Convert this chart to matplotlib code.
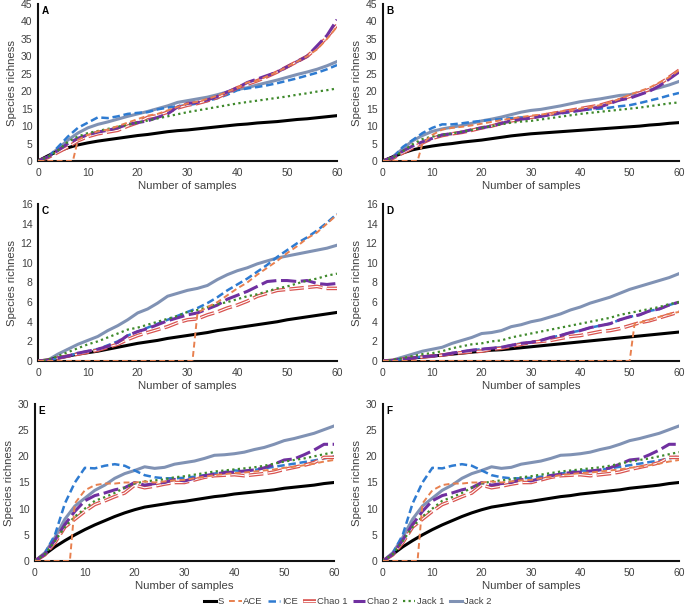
"""Species accumulation curves (S, ACE, ICE, Chao 1/2, Jack 1/2) for six sample sets."""

import matplotlib
matplotlib.use("Agg")
import matplotlib.pyplot as plt
from matplotlib.legend_handler import HandlerTuple

plt.rcParams["font.family"] = ["Liberation Sans", "DejaVu Sans"]

# common sampling grid (number of samples)
X = list(range(0, 61, 2))

PANELS = ["A", "B", "C", "D", "E", "F"]
Y_MAX = [45, 45, 16, 16, 30, 30]
Y_STEP = [5, 5, 2, 2, 5, 5]

# ---- panel A ----
S_A = [0, 1.5, 2.8, 3.8, 4.6, 5.2, 5.7, 6.1, 6.5, 6.9, 7.3, 7.6, 8.0, 8.4, 8.7, 8.9,
       9.2, 9.5, 9.8, 10.1, 10.4, 10.6, 10.9, 11.1, 11.3, 11.6, 11.9, 12.1, 12.4, 12.7, 13.0]
ACE_A_X = [0, 7] + list(range(8, 61, 2))
ACE_A = [0, 0, 6.0, 7.5, 8.5, 9.0, 10.0, 11.0, 12.0, 13.0, 13.5, 14.5, 15.5, 16.5, 17.0, 17.8,
         18.7, 19.8, 21.0, 22.5, 23.0, 24.3, 25.5, 27.0, 28.5, 30.0, 32.0, 35.0, 38.5]
ICE_A = [0, 1.0, 4.0, 7.0, 9.5, 11.0, 12.5, 12.3, 12.8, 13.5, 13.8, 14.0, 14.8, 15.3, 15.7, 16.0,
         16.5, 17.2, 18.0, 19.0, 20.3, 20.8, 21.2, 21.7, 22.3, 23.0, 23.7, 24.5, 25.3, 26.3, 27.5]
CHAO1_A = [0, 1.0, 2.5, 4.0, 5.8, 7.0, 7.8, 8.3, 8.8, 10.0, 11.0, 12.5, 13.0, 14.0, 15.2, 16.0,
           16.5, 17.3, 18.2, 19.5, 21.0, 22.0, 23.0, 24.2, 25.5, 27.0, 28.5, 30.0, 32.5, 35.5, 39.0]
CHAO2_A = [0, 1.2, 3.0, 5.0, 6.5, 7.5, 8.3, 8.8, 9.5, 10.5, 11.0, 11.5, 12.5, 13.5, 15.5, 16.5,
           16.8, 17.5, 18.5, 19.8, 21.0, 22.5, 23.5, 24.5, 25.5, 27.0, 28.5, 30.0, 33.0, 36.0, 40.5]
JACK1_A = [0, 1.2, 3.0, 5.5, 7.0, 8.0, 8.6, 9.2, 9.8, 10.4, 11.0, 11.6, 12.2, 12.8, 13.4, 14.0,
           14.5, 15.0, 15.5, 16.0, 16.5, 16.9, 17.3, 17.7, 18.1, 18.5, 19.0, 19.4, 19.9, 20.3, 20.8]
JACK2_A = [0, 1.3, 3.5, 6.0, 8.0, 9.5, 10.5, 11.2, 12.0, 12.8, 13.5, 14.2, 15.0, 15.8, 16.8, 17.3,
           17.8, 18.3, 19.0, 19.8, 20.5, 21.0, 21.8, 22.5, 23.2, 24.0, 24.8, 25.5, 26.3, 27.3, 28.5]

# ---- panel B ----
S_B = [0, 1.2, 2.3, 3.2, 3.8, 4.3, 4.7, 5.0, 5.4, 5.7, 6.0, 6.4, 6.8, 7.2, 7.5, 7.8,
       8.0, 8.2, 8.4, 8.6, 8.8, 9.0, 9.2, 9.4, 9.6, 9.8, 10.0, 10.3, 10.5, 10.8, 11.0]
ACE_B_X = [0, 7] + list(range(8, 61, 2))
ACE_B = [0, 0, 5.0, 7.5, 9.0, 9.5, 9.8, 10.2, 10.7, 11.2, 11.7, 12.2, 12.6, 13.0, 13.3, 13.7,
         14.2, 14.6, 15.0, 15.5, 16.0, 16.8, 17.8, 19.0, 20.0, 21.0, 22.5, 24.0, 26.0]
ICE_B = [0, 1.0, 4.0, 6.0, 8.0, 9.5, 10.5, 10.5, 10.8, 11.2, 11.5, 11.8, 12.0, 12.3, 12.5, 12.5,
         12.8, 13.2, 13.6, 14.0, 14.5, 14.8, 15.0, 15.3, 15.7, 16.0, 16.6, 17.3, 18.0, 18.8, 19.5]
CHAO1_B = [0, 0.8, 2.3, 3.8, 5.2, 6.5, 7.3, 7.8, 8.2, 8.8, 9.5, 10.0, 10.8, 11.5, 12.0, 12.5,
           13.0, 13.5, 14.0, 14.5, 15.0, 15.5, 16.0, 16.8, 17.6, 18.5, 19.5, 20.5, 22.0, 24.0, 26.0]
CHAO2_B = [0, 1.0, 2.8, 4.3, 5.5, 6.5, 7.5, 7.8, 8.3, 9.0, 9.5, 10.0, 10.8, 11.5, 12.0, 12.3,
           12.8, 13.3, 13.8, 14.2, 14.5, 15.0, 15.5, 16.5, 17.5, 18.0, 19.0, 20.0, 21.5, 23.5, 25.5]
JACK1_B = [0, 1.0, 2.8, 4.8, 6.3, 7.0, 7.5, 7.9, 8.4, 8.9, 9.5, 10.0, 10.5, 11.0, 11.3, 11.5,
           11.9, 12.3, 12.7, 13.1, 13.5, 13.8, 14.1, 14.4, 14.7, 15.0, 15.3, 15.7, 16.1, 16.5, 16.8]
JACK2_B = [0, 1.2, 3.5, 5.8, 7.3, 8.5, 9.2, 9.7, 10.2, 10.8, 11.5, 12.0, 12.6, 13.3, 14.0, 14.5,
           14.8, 15.3, 15.8, 16.4, 17.0, 17.4, 17.8, 18.3, 18.8, 19.0, 19.6, 20.3, 21.0, 21.8, 22.8]

# ---- panel C ----
S_C = [0, 0.1, 0.3, 0.5, 0.7, 0.85, 1.0, 1.2, 1.4, 1.6, 1.8, 1.95, 2.1, 2.3, 2.45, 2.6,
       2.75, 2.9, 3.1, 3.25, 3.4, 3.55, 3.7, 3.85, 4.0, 4.2, 4.35, 4.5, 4.65, 4.8, 4.95]
ACE_C_X = [0, 31] + list(range(32, 61, 2))
ACE_C = [0, 0, 4.9, 5.5, 6.0, 6.7, 7.4, 8.0, 8.8, 9.5, 10.2, 11.0, 11.7, 12.5, 13.1, 14.0, 14.9]
ICE_C = [0, 0.05, 0.3, 0.5, 0.8, 1.0, 1.2, 1.6, 2.0, 2.6, 3.0, 3.4, 3.8, 4.2, 4.6, 5.0,
         5.4, 5.9, 6.5, 7.2, 7.8, 8.4, 9.1, 9.8, 10.6, 11.3, 12.0, 12.6, 13.3, 14.1, 15.0]
CHAO1_C = [0, 0.05, 0.3, 0.5, 0.7, 0.9, 1.1, 1.4, 1.7, 2.2, 2.6, 2.9, 3.2, 3.5, 3.9, 4.2,
           4.3, 4.7, 5.0, 5.4, 5.7, 6.1, 6.6, 6.9, 7.2, 7.3, 7.4, 7.5, 7.6, 7.4, 7.4]
CHAO2_C = [0, 0.05, 0.3, 0.5, 0.8, 1.0, 1.2, 1.5, 1.9, 2.6, 3.0, 3.3, 3.7, 4.1, 4.4, 4.7,
           4.9, 5.3, 5.7, 6.3, 6.7, 7.1, 7.6, 8.1, 8.2, 8.2, 8.1, 8.2, 7.9, 7.8, 7.9]
JACK1_C = [0, 0.1, 0.5, 0.9, 1.3, 1.7, 2.0, 2.4, 2.8, 3.2, 3.4, 3.7, 4.0, 4.3, 4.6, 5.0,
           5.2, 5.5, 5.8, 6.0, 6.3, 6.6, 6.8, 7.1, 7.4, 7.6, 7.9, 8.2, 8.4, 8.7, 8.9]
JACK2_C = [0, 0.1, 0.7, 1.2, 1.7, 2.1, 2.5, 3.1, 3.6, 4.2, 4.9, 5.3, 5.9, 6.6, 6.9, 7.2,
           7.4, 7.7, 8.3, 8.8, 9.2, 9.5, 9.9, 10.2, 10.5, 10.7, 10.9, 11.1, 11.3, 11.5, 11.8]

# ---- panel D ----
S_D = [0, 0.05, 0.15, 0.3, 0.4, 0.5, 0.6, 0.7, 0.8, 0.9, 1.0, 1.1, 1.15, 1.25, 1.35, 1.45,
       1.55, 1.65, 1.75, 1.85, 1.95, 2.05, 2.15, 2.25, 2.35, 2.45, 2.55, 2.65, 2.75, 2.85, 2.95]
ACE_D_X = [0, 50, 51] + list(range(52, 61, 2))
ACE_D = [0, 0, 3.8, 3.9, 4.2, 4.5, 4.8, 5.0]
ICE_D = [0, 0.05, 0.2, 0.3, 0.45, 0.5, 0.6, 0.8, 0.95, 1.1, 1.2, 1.3, 1.4, 1.6, 1.8, 1.9,
         2.1, 2.4, 2.6, 2.9, 3.1, 3.4, 3.6, 3.8, 4.2, 4.5, 4.7, 5.1, 5.3, 5.7, 6.0]
CHAO1_D = [0, 0.05, 0.2, 0.3, 0.4, 0.5, 0.6, 0.75, 0.85, 0.95, 1.0, 1.2, 1.3, 1.5, 1.7, 1.9,
           2.0, 2.1, 2.3, 2.5, 2.6, 2.8, 3.0, 3.1, 3.3, 3.6, 3.9, 4.1, 4.4, 4.7, 5.0]
CHAO2_D = [0, 0.05, 0.2, 0.3, 0.45, 0.5, 0.6, 0.8, 0.95, 1.1, 1.2, 1.3, 1.4, 1.6, 1.8, 1.9,
           2.1, 2.4, 2.6, 2.9, 3.1, 3.4, 3.6, 3.8, 4.2, 4.5, 4.7, 5.1, 5.3, 5.7, 6.0]
JACK1_D = [0, 0.1, 0.3, 0.5, 0.7, 0.8, 1.0, 1.3, 1.5, 1.7, 1.8, 2.0, 2.1, 2.4, 2.6, 2.8,
           3.0, 3.2, 3.4, 3.6, 3.8, 4.0, 4.2, 4.4, 4.7, 4.9, 5.1, 5.3, 5.5, 5.8, 6.0]
JACK2_D = [0, 0.1, 0.4, 0.7, 1.0, 1.2, 1.4, 1.8, 2.1, 2.4, 2.8, 2.9, 3.1, 3.5, 3.7, 4.0,
           4.2, 4.5, 4.8, 5.2, 5.5, 5.9, 6.2, 6.5, 6.9, 7.3, 7.6, 7.9, 8.2, 8.5, 8.9]

# ---- panel E ----
S_E = [0, 1.3, 2.7, 3.9, 5.0, 6.0, 6.9, 7.7, 8.5, 9.2, 9.8, 10.3, 10.6, 10.9, 11.2, 11.4,
       11.7, 12.0, 12.3, 12.5, 12.8, 13.0, 13.2, 13.4, 13.6, 13.9, 14.1, 14.3, 14.5, 14.8, 15.0]
ACE_E_X = [0, 7] + list(range(8, 61, 2))
ACE_E = [0, 0, 11.0, 13.5, 14.5, 14.8, 14.8, 15.0, 15.0, 15.2, 15.0, 15.2, 15.4, 15.5, 15.8, 16.1,
         16.4, 16.6, 16.8, 16.9, 17.1, 17.3, 17.5, 17.8, 18.0, 18.3, 18.6, 19.0, 19.3]
ICE_E = [0, 1.5, 5.0, 11.0, 15.0, 17.8, 17.7, 18.2, 18.5, 18.2, 17.3, 16.4, 16.0, 15.8, 15.8, 15.9,
         16.1, 16.4, 16.7, 17.0, 17.3, 17.2, 17.4, 17.7, 18.0, 18.3, 18.6, 18.9, 19.2, 19.6, 20.0]
CHAO1_E = [0, 1.2, 3.5, 6.5, 8.0, 9.5, 10.8, 11.5, 12.3, 13.0, 14.5, 14.0, 14.3, 14.7, 15.0, 15.0,
           15.5, 16.0, 16.3, 16.4, 16.5, 16.3, 16.5, 16.7, 17.0, 17.5, 17.9, 18.3, 18.8, 19.8, 19.8]
CHAO2_E = [0, 1.3, 4.0, 7.0, 9.5, 11.5, 12.5, 13.0, 13.6, 14.0, 15.0, 14.5, 14.8, 15.0, 15.6, 15.3,
           15.8, 16.3, 16.6, 16.9, 17.0, 17.2, 17.4, 17.8, 18.5, 19.3, 19.5, 20.3, 21.2, 22.3, 22.3]
JACK1_E = [0, 1.3, 3.8, 6.5, 8.5, 10.0, 11.5, 12.2, 13.0, 14.0, 14.8, 15.2, 15.4, 15.6, 16.0, 16.2,
           16.5, 16.8, 17.1, 17.3, 17.5, 17.7, 17.9, 18.2, 18.6, 19.0, 19.3, 19.6, 20.0, 20.4, 20.8]
JACK2_E = [0, 1.6, 4.5, 8.0, 10.5, 12.0, 13.5, 14.5, 15.8, 16.7, 17.3, 18.0, 17.7, 17.9, 18.5, 18.8,
           19.1, 19.6, 20.2, 20.3, 20.5, 20.8, 21.3, 21.7, 22.3, 23.0, 23.4, 23.9, 24.4, 25.1, 25.8]

# ---- panel F (same curves as E in the source figure) ----
S_F = S_E
ACE_F_X = ACE_E_X
ACE_F = ACE_E
ICE_F = ICE_E
CHAO1_F = CHAO1_E
CHAO2_F = CHAO2_E
JACK1_F = JACK1_E
JACK2_F = JACK2_E

DATA = {
    "A": (S_A, ACE_A_X, ACE_A, ICE_A, CHAO1_A, CHAO2_A, JACK1_A, JACK2_A),
    "B": (S_B, ACE_B_X, ACE_B, ICE_B, CHAO1_B, CHAO2_B, JACK1_B, JACK2_B),
    "C": (S_C, ACE_C_X, ACE_C, ICE_C, CHAO1_C, CHAO2_C, JACK1_C, JACK2_C),
    "D": (S_D, ACE_D_X, ACE_D, ICE_D, CHAO1_D, CHAO2_D, JACK1_D, JACK2_D),
    "E": (S_E, ACE_E_X, ACE_E, ICE_E, CHAO1_E, CHAO2_E, JACK1_E, JACK2_E),
    "F": (S_F, ACE_F_X, ACE_F, ICE_F, CHAO1_F, CHAO2_F, JACK1_F, JACK2_F),
}

# axes boxes in pixels: left, top, width of plot area (y from the top of the figure)
W, H = 685, 608
BOXES = {
    "A": (38, 4, 299), "B": (383, 4, 296),
    "C": (38, 204, 299), "D": (383, 204, 296),
    "E": (35, 404, 299), "F": (383, 404, 296),
}
AX_H = 157

TEXT = "#404040"
C_S = "black"
C_ACE = "#e8804f"
C_ICE = "#2e7bd1"
C_CHAO1 = "#d9534f"
C_CHAO2 = "#7030a0"
C_JACK1 = "#3f8a2c"
C_JACK2 = "#8092b4"


def draw_panel(ax, key, ymax, ystep):
    s, ace_x, ace, ice, chao1, chao2, jack1, jack2 = DATA[key]
    h = {}
    h["S"], = ax.plot(X, s, color=C_S, lw=2.2, zorder=3)
    h["ACE"], = ax.plot(ace_x, ace, color=C_ACE, lw=1.4, dashes=(3, 1.8), zorder=4)
    h["ICE"], = ax.plot(X, ice, color=C_ICE, lw=1.8, dashes=(3, 1.5), zorder=3)
    r1, = ax.plot(X, chao1, color=C_CHAO1, lw=2.6, dashes=(4, 1.2), zorder=3)
    r2, = ax.plot(X, chao1, color="white", lw=0.8, dashes=(13, 3.9), zorder=3)
    h["Chao 1"] = (r1, r2)
    h["Chao 2"], = ax.plot(X, chao2, color=C_CHAO2, lw=2.2, dashes=(5, 1.5), zorder=3)
    h["Jack 1"], = ax.plot(X, jack1, color=C_JACK1, lw=1.6, dashes=(1, 1.5), zorder=3)
    h["Jack 2"], = ax.plot(X, jack2, color=C_JACK2, lw=2.2, zorder=2)

    ax.set_xlim(0, 60)
    ax.set_ylim(0, ymax)
    ax.set_xticks(range(0, 61, 10))
    ax.set_yticks(range(0, ymax + 1, ystep))
    ax.tick_params(length=0, labelsize=7.5, colors=TEXT)
    ax.tick_params(axis="x", pad=5)
    ax.tick_params(axis="y", pad=4)
    for side in ("top", "right"):
        ax.spines[side].set_visible(False)
    for side in ("left", "bottom"):
        ax.spines[side].set_linewidth(1.5)
        ax.spines[side].set_color("#111111")
    ax.set_xlabel("Number of samples", fontsize=8.2, color=TEXT, labelpad=2)
    ax.set_ylabel("Species richness", fontsize=8.2, color=TEXT, labelpad=3)
    ax.text(0.012, 0.985, key, transform=ax.transAxes, fontsize=7.2,
            fontweight="bold", va="top", ha="left")
    return h


def main():
    fig = plt.figure(figsize=(W / 100, H / 100), dpi=100)
    handles = None
    for key, ymax, ystep in zip(PANELS, Y_MAX, Y_STEP):
        left, top, width = BOXES[key]
        ax = fig.add_axes([left / W, 1 - (top + AX_H) / H, width / W, AX_H / H])
        handles = draw_panel(ax, key, ymax, ystep)

    labels = ["S", "ACE", "ICE", "Chao 1", "Chao 2", "Jack 1", "Jack 2"]
    fig.legend([handles[k] for k in labels], labels,
               loc="center", bbox_to_anchor=(0.507, 0.01), ncol=7, frameon=False,
               fontsize=6.8, handlelength=1.3, handletextpad=0.15, columnspacing=0.6,
               labelcolor=TEXT, borderpad=0.1,
               handler_map={tuple: HandlerTuple(ndivide=1, pad=0)})
    fig.savefig("out.png", dpi=100)


if __name__ == "__main__":
    main()
